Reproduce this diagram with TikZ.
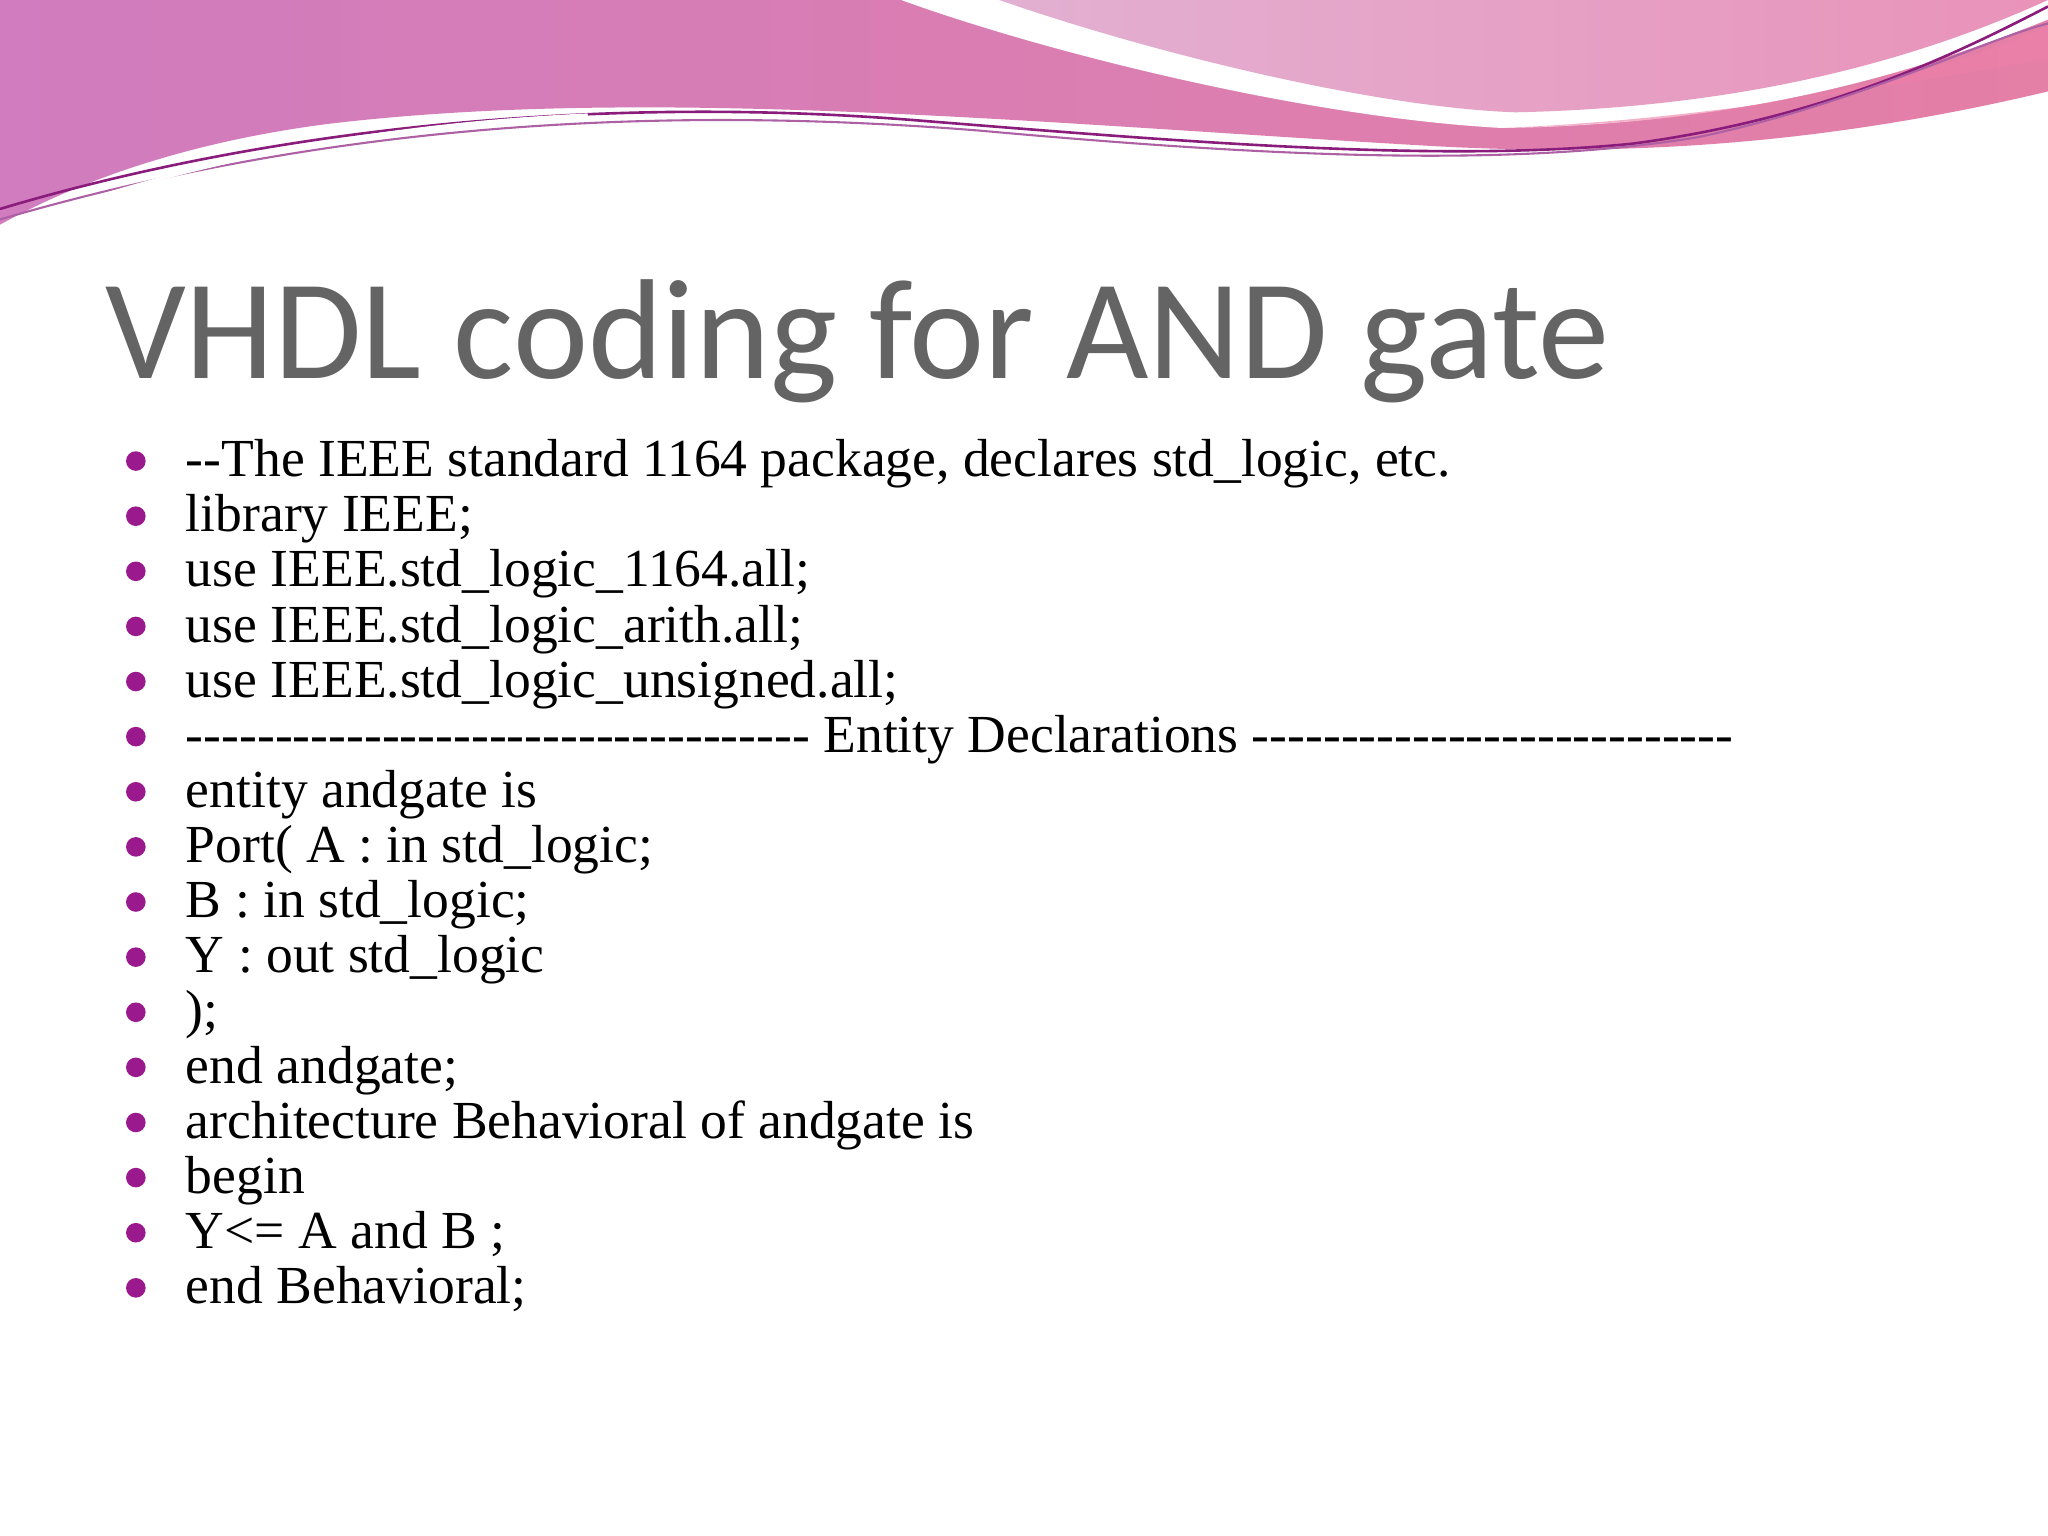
\documentclass[tikz,border=0pt]{standalone}
\usepackage{fontspec}
\setmainfont{Liberation Serif}
\newfontfamily\titlefont{Carlito}
\definecolor{titlegray}{HTML}{646464}
\definecolor{bulletpurple}{HTML}{9A1A8E}
\definecolor{bandleft}{HTML}{D07CBE}
\definecolor{bandright}{HTML}{E47FA6}
\definecolor{lavender}{HTML}{E2B0D2}
\definecolor{hotpink}{HTML}{EE7FA8}
\definecolor{linepurple}{HTML}{8A1C7C}
\begin{document}
\begin{tikzpicture}[x=0.5pt,y=-0.5pt,
  itemtext/.style={anchor=base west,inner sep=0pt,font=\fontsize{20.5}{24}\selectfont},
  bulletdot/.style={fill=bulletpurple,draw=none,circle,minimum size=7.5pt,inner sep=0pt}]
\fill[white] (0,0) rectangle (1568,1176);
\useasboundingbox (0,0) rectangle (1568,1176);
% top band
\shade[left color=bandleft,right color=bandright]
  (0,0) -- (1568,0) -- (1568,70) .. controls (1400,110) and (1250,120) .. (1100,112)
  .. controls (800,95) and (500,65) .. (250,95) .. controls (120,112) and (40,150) .. (0,172) -- cycle;
% white stripe
\fill[white] (690,0) .. controls (800,40) and (1000,90) .. (1150,98)
  .. controls (1350,95) and (1480,50) .. (1568,15) -- (1568,0) -- cycle;
% lavender region
\shade[left color=lavender,right color=hotpink!60!lavender]
  (765,0) .. controls (880,40) and (1050,82) .. (1160,86)
  .. controls (1350,82) and (1480,40) .. (1568,0) -- cycle;
\fill[hotpink,opacity=0.6] (1568,20) .. controls (1450,70) and (1300,95) .. (1150,98)
  .. controls (1300,92) and (1450,65) .. (1568,45) -- cycle;
% thin lines
\draw[linepurple,line width=1pt] (0,160) .. controls (200,100) and (450,72) .. (700,92)
  .. controls (900,108) and (1100,125) .. (1250,110) .. controls (1400,90) and (1500,40) .. (1568,5);
\draw[linepurple!70,line width=0.8pt] (0,168) .. controls (250,95) and (500,80) .. (750,100)
  .. controls (950,118) and (1150,130) .. (1300,105) .. controls (1420,80) and (1520,30) .. (1568,18);
\draw[white,line width=1.2pt] (0,176) .. controls (150,120) and (300,95) .. (450,88);
% title
\node[anchor=base west,inner sep=0pt,text=titlegray,font=\titlefont\fontsize{54.5}{60}\selectfont] (title) at (80,290) {VHDL coding for AND gate};
% items
\foreach \i/\t in {0/{-{}-The IEEE standard 1164 package, declares std\_logic, etc.},
 1/{library IEEE;},
 2/{use IEEE.std\_logic\_1164.all;},
 3/{use IEEE.std\_logic\_arith.all;},
 4/{use IEEE.std\_logic\_unsigned.all;},
 5/{-{}-{}-{}-{}-{}-{}-{}-{}-{}-{}-{}-{}-{}-{}-{}-{}-{}-{}-{}-{}-{}-{}-{}-{}-{}-{}-{}-{}-{}-{}-{}-{}-{}-{}-{} Entity Declarations -{}-{}-{}-{}-{}-{}-{}-{}-{}-{}-{}-{}-{}-{}-{}-{}-{}-{}-{}-{}-{}-{}-{}-{}-{}-{}-},
 6/{entity andgate is},
 7/{Port( A : in std\_logic;},
 8/{B : in std\_logic;},
 9/{Y : out std\_logic},
 10/{);},
 11/{end andgate;},
 12/{architecture Behavioral of andgate is},
 13/{begin},
 14/{Y<= A and B ;},
 15/{end Behavioral;}} {
  \node[itemtext] (t\i) at (142,365+42.2*\i) {\t};
  \node[bulletdot] (b\i) at (104,365-12+42.2*\i) {};
}
\end{tikzpicture}
\end{document}
